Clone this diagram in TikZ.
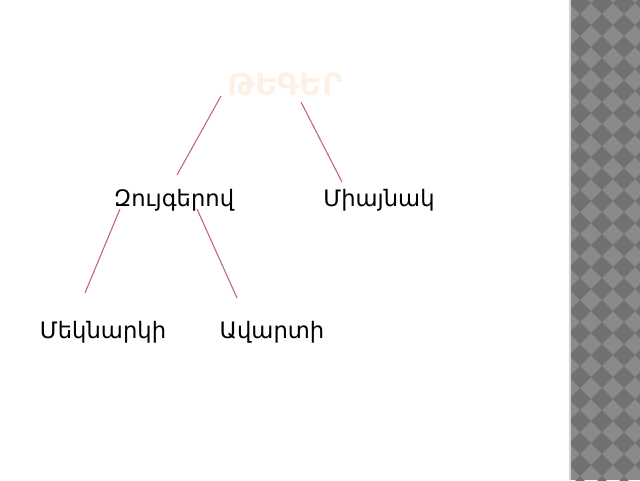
\documentclass[tikz,border=0pt]{standalone}
\usepackage{fontspec}
\setmainfont{DejaVu Sans}
\definecolor{linecol}{HTML}{C06482}
\definecolor{titlecol}{HTML}{FDF1E6}
\definecolor{darkchk}{HTML}{717171}
\definecolor{lightchk}{HTML}{8A8A8A}
\tikzset{
  lbl/.style={anchor=base, inner sep=0pt, font=\fontsize{17pt}{19pt}\selectfont, text=black},
  ttl/.style={anchor=base, inner sep=0pt, font=\fontsize{23pt}{26pt}\selectfont\bfseries, text=titlecol},
  conn/.style={draw=linecol, line width=0.8pt}
}
\begin{document}
\begin{tikzpicture}[x=0.75pt,y=-0.75pt]
\useasboundingbox (0,0) rectangle (640,480);
\fill[white] (0,0) rectangle (640,480);
% checkered strip
\begin{scope}
  \clip (570,0) rectangle (640,480);
  \fill[lightchk] (570,0) rectangle (640,480);
  \foreach \i in {-1,...,4} {
    \foreach \j in {-1,...,22} {
      \fill[darkchk] ({580+22*\i},{3+22*\j-11}) -- ({591+22*\i},{3+22*\j}) -- ({580+22*\i},{3+22*\j+11}) -- ({569+22*\i},{3+22*\j}) -- cycle;
    }
  }
\end{scope}
\fill[gray!35] (569,0) rectangle (570.5,480);
% texts
\node[ttl] (title) at (285,95) {ԹԵԳԵՐ};
\node[lbl] (zuyg) at (174,206.5) {Զույգերով};
\node[lbl] (miayn) at (379,206.5) {Միայնակ};
\node[lbl] (mek) at (103,338) {Մեկնարկի};
\node[lbl] (avar) at (272,338) {Ավարտի};
% connector ends
\coordinate (t1) at (221,96);
\coordinate (z1) at (177,175);
\coordinate (t2) at (301,102);
\coordinate (m1) at (342,182);
\coordinate (z2) at (120,209);
\coordinate (k1) at (85,293);
\coordinate (z3) at (197,209);
\coordinate (a1) at (237,298);
\draw[conn] (t1) -- (z1);
\draw[conn] (t2) -- (m1);
\draw[conn] (z2) -- (k1);
\draw[conn] (z3) -- (a1);
\end{tikzpicture}
\end{document}
